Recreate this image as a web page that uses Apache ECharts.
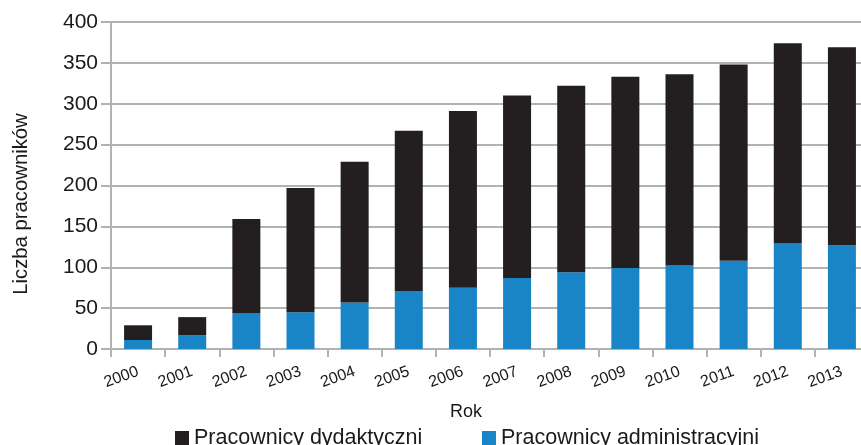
<!DOCTYPE html>
<html>
<head>
<meta charset="utf-8">
<script src="https://cdn.jsdelivr.net/npm/echarts@6/dist/echarts.min.js"></script>
<style>
html,body{margin:0;padding:0;background:#fff;}
#chart{width:861px;height:445px;}
</style>
</head>
<body>
<div id="chart"></div>
<script>
const categories = ['2000','2001','2002','2003','2004','2005','2006','2007','2008','2009','2010','2011','2012','2013'];
const administracyjni = [11, 17, 44, 45, 57, 71, 75, 87, 94, 99, 102, 108, 129, 127];
const dydaktyczni = [18, 22, 115, 152, 172, 196, 216, 223, 228, 234, 234, 240, 245, 242];
const yTicks = [0, 50, 100, 150, 200, 250, 300, 350, 400];

const FONT = 'Liberation Sans, Arial, Helvetica, sans-serif';
const GRAY = '#b1b3b3';
const TEXT = '#1a1a1a';

const chart = echarts.init(document.getElementById('chart'));
chart.setOption({
  animation: false,
  backgroundColor: '#ffffff',
  textStyle: { fontFamily: FONT },
  grid: { left: 111, width: 758, top: 22, bottom: 96, containLabel: false, outerBoundsMode: 'none' },
  legend: [
    {
      data: ['Pracownicy dydaktyczni'],
      left: 175, top: 427, padding: 0,
      itemWidth: 14, itemHeight: 14, itemGap: 5,
      icon: 'rect',
      textStyle: { fontSize: 21.5, color: TEXT, fontFamily: FONT }
    },
    {
      data: ['Pracownicy administracyjni'],
      left: 482, top: 427, padding: 0,
      itemWidth: 14, itemHeight: 14, itemGap: 5,
      icon: 'rect',
      textStyle: { fontSize: 21.5, color: TEXT, fontFamily: FONT }
    }
  ],
  xAxis: {
    type: 'category',
    data: categories,
    boundaryGap: true,
    name: 'Rok',
    nameLocation: 'middle',
    nameGap: 54,
    nameTextStyle: { fontSize: 18, color: TEXT, fontFamily: FONT, padding: [0, 48, 0, 0] },
    axisLine: { show: true, lineStyle: { color: GRAY, width: 2 } },
    axisTick: { show: true, length: 8, alignWithLabel: false, lineStyle: { color: GRAY, width: 2 } },
    axisLabel: { rotate: 20, margin: 22, fontSize: 16, color: TEXT, fontFamily: FONT, interval: 0 },
    splitLine: { show: false }
  },
  yAxis: {
    type: 'value',
    min: yTicks[0],
    max: yTicks[yTicks.length - 1],
    interval: 50,
    name: 'Liczba pracowników',
    nameLocation: 'middle',
    nameGap: 80,
    nameTextStyle: { fontSize: 20.3, color: TEXT, fontFamily: FONT, padding: [0, 37, 0, 0] },
    axisLine: { show: true, lineStyle: { color: GRAY, width: 2 } },
    axisTick: { show: true, length: 10, lineStyle: { color: GRAY, width: 2 } },
    axisLabel: { margin: 13, fontSize: 21, color: TEXT, fontFamily: FONT },
    splitLine: { show: true, lineStyle: { color: GRAY, width: 2 } }
  },
  series: [
    {
      name: 'Pracownicy administracyjni',
      type: 'bar',
      stack: 'total',
      data: administracyjni,
      barWidth: 28,
      itemStyle: { color: '#1985c7' }
    },
    {
      name: 'Pracownicy dydaktyczni',
      type: 'bar',
      stack: 'total',
      data: dydaktyczni,
      barWidth: 28,
      itemStyle: { color: '#231f20' }
    }
  ]
});
</script>
</body>
</html>
